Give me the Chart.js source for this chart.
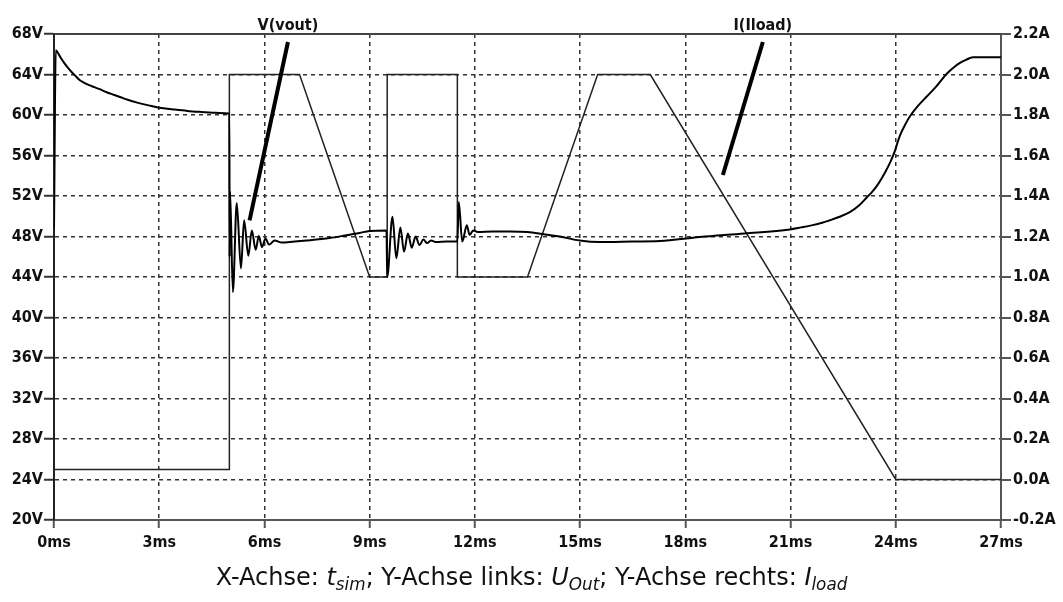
<!DOCTYPE html>
<html>
<head>
<meta charset="utf-8">
<script src="https://cdn.jsdelivr.net/npm/chart.js@4.4.1/dist/chart.umd.min.js"></script>
<style>
  html, body { margin: 0; padding: 0; background: #fff; }
  #wrap { position: relative; width: 1063px; height: 602px; }
  #caption {
    position: absolute; left: 0; top: 563px; width: 1063px;
    text-align: center; font-family: 'DejaVu Sans', sans-serif; font-size: 24px; color: #111;
    white-space: nowrap;
  }
  #caption i { font-style: italic; }
  #caption .sub { font-size: 70%; position: relative; top: 0.3em; font-style: italic; }
</style>
</head>
<body>
<div id="wrap">
  <canvas id="plot" width="1063" height="602"></canvas>
  <div id="caption">X-Achse: <i>t</i><span class="sub">sim</span>; Y-Achse links: <i>U</i><span class="sub">Out</span>; Y-Achse rechts: <i>I</i><span class="sub">load</span></div>
</div>
<script>
// Transient simulation: output voltage V(vout) and load current I(Iload)
const TIME_TICKS = [0, 3, 6, 9, 12, 15, 18, 21, 24, 27];      // ms
const VOLT_TICKS = [20, 24, 28, 32, 36, 40, 44, 48, 52, 56, 60, 64, 68]; // V
const AMP_TICKS  = [-0.2, 0.0, 0.2, 0.4, 0.6, 0.8, 1.0, 1.2, 1.4, 1.6, 1.8, 2.0, 2.2]; // A

// V(vout): time in ms, voltage in V
const VOUT_T = [0, 0.05, 0.1, 0.2, 0.3, 0.4, 0.5, 0.6, 0.73, 0.85, 1.0, 1.15, 1.3, 1.5, 1.7, 1.9, 2.1,
  2.4, 2.7, 3.0, 3.4, 3.8, 4.2, 4.6, 4.98,
  5.0, 5.005, 5.02, 5.10, 5.21, 5.33, 5.42, 5.54, 5.64, 5.75, 5.84, 5.93, 6.03, 6.13, 6.29, 6.5, 6.72,
  7.2, 7.86, 8.3, 8.71, 9.0, 9.48,
  9.5, 9.65, 9.76, 9.875, 9.98, 10.09, 10.20, 10.31, 10.42, 10.53, 10.64, 10.75, 10.9, 11.2, 11.48,
  11.5, 11.54, 11.64, 11.77, 11.85, 11.95, 12.08, 12.5, 13.0, 13.5, 14.0, 14.42, 14.99, 15.56, 16.5,
  17.27, 18.41, 19.69, 20.98, 21.3, 21.6, 21.9, 22.12, 22.4, 22.69, 22.95, 23.17, 23.35, 23.5, 23.69,
  23.85, 23.97, 24.06, 24.16, 24.26, 24.4, 24.62, 24.89, 25.15, 25.46, 25.65, 25.83, 26.0, 26.2, 27.0];
const VOUT_V = [48.8, 66.4, 66.2, 65.6, 65.1, 64.65, 64.25, 63.9, 63.45, 63.2, 62.95, 62.75, 62.55, 62.25, 62.0, 61.75, 61.5,
  61.2, 60.95, 60.72, 60.55, 60.4, 60.3, 60.22, 60.15,
  60.15, 46.0, 52.5, 42.5, 51.3, 44.85, 49.6, 46.1, 48.6, 46.7, 48.05, 46.95, 47.8, 47.2, 47.6, 47.4, 47.45,
  47.6, 47.85, 48.1, 48.35, 48.55, 48.6,
  44.0, 49.95, 45.85, 48.9, 46.5, 48.3, 46.9, 48.0, 47.15, 47.7, 47.35, 47.6, 47.45, 47.5, 47.5,
  47.5, 51.4, 47.5, 49.1, 48.15, 48.6, 48.45, 48.5, 48.5, 48.45, 48.2, 48.0, 47.6, 47.45, 47.5,
  47.55, 47.95, 48.3, 48.7, 48.9, 49.1, 49.35, 49.6, 49.95, 50.4, 51.05, 51.85, 52.5, 53.2, 54.3,
  55.4, 56.4, 57.4, 58.3, 59.0, 59.85, 60.85, 61.85, 62.8, 64.1, 64.7, 65.15, 65.45, 65.7, 65.7];

// I(Iload): time in ms, current in A
const ILOAD_T = [0, 5, 5, 7, 9, 9.5, 9.5, 11.5, 11.5, 13.5, 15.5, 17, 24, 27];
const ILOAD_A = [0.05, 0.05, 2.0, 2.0, 1.0, 1.0, 2.0, 2.0, 1.0, 1.0, 2.0, 2.0, 0.0, 0.0];

// Trace labels with pointer lines (tip given in ms / V, tail near the top edge)
const LABEL_TEXT   = ['V(vout)', 'I(Iload)'];
const LABEL_TAIL_T = [6.67, 20.21];
const LABEL_TIP_T  = [5.575, 19.07];
const LABEL_TIP_V  = [49.6, 54.07];

const zip = (xs, ys) => xs.map((x, i) => ({ x: x, y: ys[i] }));
const fixedTicks = arr => scale => { scale.ticks = arr.map(v => ({ value: v })); };

const TICK_FONT = { family: "'DejaVu Sans Condensed', 'DejaVu Sans', sans-serif", size: 16, weight: 'bold' };
const GRID_COLOR = '#333';
const AXIS_COLOR = '#555';

const traceLabels = {
  id: 'traceLabels',
  afterDatasetsDraw(chart) {
    const { ctx, chartArea, scales } = chart;
    const xs = scales.x, ys = scales.yV;
    ctx.save();
    // solid top frame line
    ctx.strokeStyle = '#444';
    ctx.lineWidth = 2;
    ctx.beginPath();
    ctx.moveTo(chartArea.left, chartArea.top);
    ctx.lineTo(chartArea.right, chartArea.top);
    ctx.stroke();
    LABEL_TEXT.forEach((txt, i) => {
      const tx = xs.getPixelForValue(LABEL_TAIL_T[i]);
      const ty = chartArea.top + 8;
      const px = xs.getPixelForValue(LABEL_TIP_T[i]);
      const py = ys.getPixelForValue(LABEL_TIP_V[i]);
      ctx.strokeStyle = '#000';
      ctx.lineWidth = 4;
      ctx.beginPath();
      ctx.moveTo(tx, ty);
      ctx.lineTo(px, py);
      ctx.stroke();
      ctx.fillStyle = '#111';
      ctx.font = "bold 16px 'DejaVu Sans Condensed', 'DejaVu Sans', sans-serif";
      ctx.textAlign = 'center';
      ctx.textBaseline = 'alphabetic';
      ctx.fillText(txt, tx, chartArea.top - 4);
    });
    ctx.restore();
  }
};

new Chart(document.getElementById('plot'), {
  type: 'line',
  data: {
    datasets: [
      {
        label: 'V(vout)', yAxisID: 'yV', data: zip(VOUT_T, VOUT_V),
        borderColor: '#000', borderWidth: 2, pointRadius: 0, cubicInterpolationMode: 'monotone'
      },
      {
        label: 'I(Iload)', yAxisID: 'yI', data: zip(ILOAD_T, ILOAD_A),
        borderColor: '#222', borderWidth: 1.5, pointRadius: 0, tension: 0
      }
    ]
  },
  options: {
    responsive: false,
    animation: false,
    layout: { padding: { top: 34, left: 0, right: 0, bottom: 0 } },
    plugins: { legend: { display: false }, tooltip: { enabled: false }, title: { display: false } },
    scales: {
      x: {
        type: 'linear', min: 0, max: 27,
        afterBuildTicks: fixedTicks(TIME_TICKS),
        afterFit: s => { s.height = 82; },
        ticks: { color: '#111', font: TICK_FONT, padding: 5, maxRotation: 0, callback: v => v + 'ms' },
        grid: { color: GRID_COLOR, lineWidth: 1.5, tickLength: 8, tickColor: AXIS_COLOR, tickWidth: 2, tickBorderDash: [] },
        border: { color: AXIS_COLOR, width: 2, dash: [4, 4] }
      },
      yV: {
        type: 'linear', position: 'left', min: 20, max: 68,
        afterBuildTicks: fixedTicks(VOLT_TICKS),
        afterFit: s => { s.width = 54; },
        ticks: { color: '#111', font: TICK_FONT, padding: 1, callback: v => v + 'V' },
        grid: { color: GRID_COLOR, lineWidth: 1.5, tickLength: 10, tickColor: '#333', tickWidth: 2, tickBorderDash: [] },
        border: { color: '#222', width: 2, dash: [4, 4] }
      },
      yI: {
        type: 'linear', position: 'right', min: -0.2, max: 2.2,
        afterBuildTicks: fixedTicks(AMP_TICKS),
        afterFit: s => { s.width = 62; },
        ticks: { color: '#111', font: TICK_FONT, padding: 2, callback: v => v.toFixed(1) + 'A' },
        grid: { drawOnChartArea: false, lineWidth: 2, tickLength: 10, color: AXIS_COLOR, tickBorderDash: [] },
        border: { color: AXIS_COLOR, width: 2 }
      }
    }
  },
  plugins: [traceLabels]
});
</script>
</body>
</html>
